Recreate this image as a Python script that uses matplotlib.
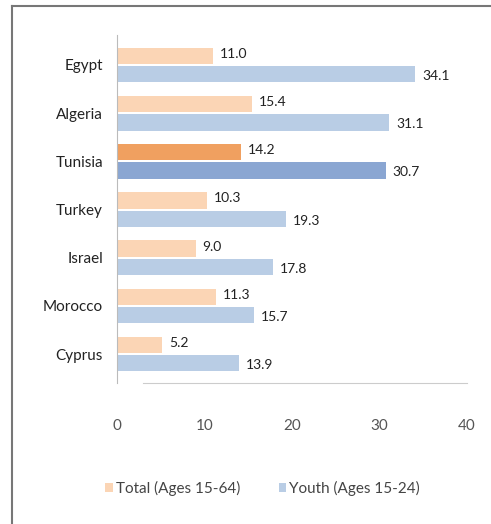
import matplotlib
matplotlib.use("Agg")
import matplotlib.pyplot as plt
from matplotlib.lines import Line2D
from matplotlib.patches import Patch
import numpy as np

plt.rcParams['font.family'] = ['Lato', 'DejaVu Sans']

countries = ["Egypt", "Algeria", "Tunisia", "Turkey", "Israel", "Morocco", "Cyprus"]
total = [11.0, 15.4, 14.2, 10.3, 9.0, 11.3, 5.2]
youth = [34.1, 31.1, 30.7, 19.3, 17.8, 15.7, 13.9]
highlight = "Tunisia"

orange_light, orange_dark = "#FBD5B5", "#F0A060"
blue_light, blue_dark = "#B9CDE5", "#8AA6D2"

fig = plt.figure(figsize=(4.91, 5.24), dpi=100)
ax = fig.add_axes([0.238, 0.269, 0.713, 0.664])

y = np.arange(len(countries))
h = 0.34
for i, c in enumerate(countries):
    hl = c == highlight
    ax.barh(i - h / 2 - 0.02, total[i], height=h,
            color=orange_dark if hl else orange_light)
    ax.barh(i + h / 2 + 0.02, youth[i], height=h,
            color=blue_dark if hl else blue_light)
    ax.text(total[i] + 0.8, i - h / 2 - 0.06, f"{total[i]:.1f}",
            va="center", ha="left", fontsize=10, color="#222222")
    ax.text(youth[i] + 0.8, i + h / 2 + 0.06, f"{youth[i]:.1f}",
            va="center", ha="left", fontsize=10, color="#222222")

ax.set_xlim(0, 40)
ax.set_ylim(len(countries) - 0.4, -0.62)
ax.set_yticks(y)
ax.set_yticklabels(countries, fontsize=11, color="#222222")
ax.set_xticks([0, 10, 20, 30, 40])
ax.tick_params(axis="x", length=0, pad=26, labelsize=11, labelcolor="#555555")
ax.tick_params(axis="y", length=0, pad=10)

for s in ["top", "right"]:
    ax.spines[s].set_visible(False)
ax.spines["left"].set_color("#BBBBBB")
ax.spines["bottom"].set_color("#CCCCCC")
ax.spines["bottom"].set_bounds(3, 40)

handles = [Patch(facecolor=orange_light, edgecolor="none"),
           Patch(facecolor=blue_light, edgecolor="none")]
fig.legend(handles, ["Total (Ages 15-64)", "Youth (Ages 15-24)"],
           loc="center", bbox_to_anchor=(0.535, 0.068), ncol=2, frameon=False,
           fontsize=11, handlelength=0.5, handleheight=0.5, handletextpad=0.2,
           columnspacing=2.5, labelcolor="#444444")

# frame lines of the original screenshot
fig.add_artist(Line2D([12 / 491, 1], [1 - 6 / 524, 1 - 6 / 524],
                      transform=fig.transFigure, color="#777777", lw=1.5))
fig.add_artist(Line2D([12 / 491, 12 / 491], [0, 1 - 6 / 524],
                      transform=fig.transFigure, color="#777777", lw=1.5))

fig.savefig("out.png", dpi=100)
